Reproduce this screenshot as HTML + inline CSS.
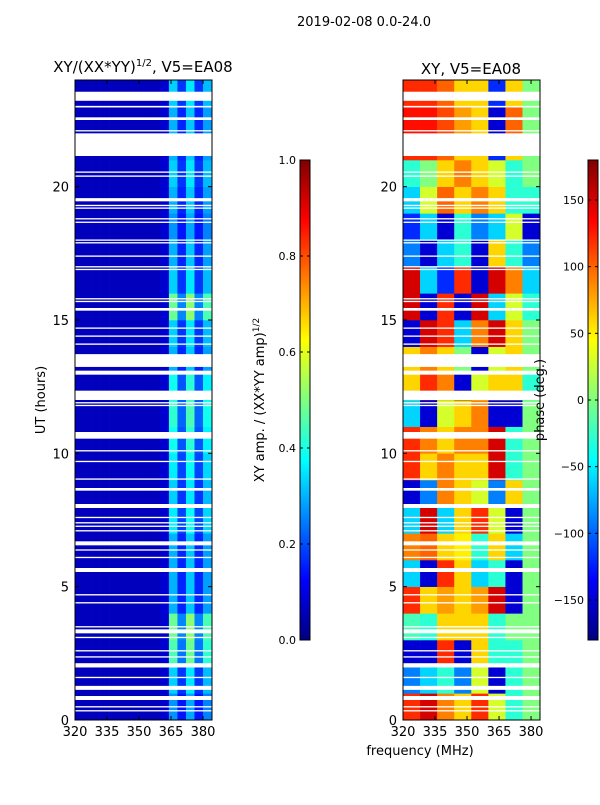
<!DOCTYPE html>
<html><head><meta charset="utf-8"><style>
body{margin:0;background:#fff;}
svg{font-family:"DejaVu Sans","Liberation Sans",sans-serif;}
</style></head><body>
<svg id="fig" width="600" height="800" xmlns="http://www.w3.org/2000/svg">
<defs>
<linearGradient id="jet" x1="0" y1="1" x2="0" y2="0">
<stop offset="0" stop-color="#00007f"/><stop offset="0.125" stop-color="#0000ff"/>
<stop offset="0.375" stop-color="#00ffff" /><stop offset="0.5" stop-color="#7fff7f"/>
<stop offset="0.625" stop-color="#ffff00"/><stop offset="0.875" stop-color="#ff0000"/><stop offset="1" stop-color="#7f0000"/>
</linearGradient>
</defs>
<text x="364" y="26" font-size="13" text-anchor="middle">2019-02-08 0.0-24.0</text>
<g id="left"></g>
<g id="right"></g>
<text x="143" y="72" font-size="15" text-anchor="middle">XY/(XX*YY)<tspan font-size="10" dy="-6">1/2</tspan><tspan dy="6">, V5=EA08</tspan></text>
<text x="471" y="74" font-size="15" text-anchor="middle">XY, V5=EA08</text>
<text transform="translate(45,400) rotate(-90)" font-size="13" text-anchor="middle">UT (hours)</text>
<text x="420" y="755" font-size="13" text-anchor="middle">frequency (MHz)</text>
<g>
<rect x="300" y="160" width="10" height="480" fill="url(#jet)" stroke="#000" stroke-width="1"/>
</g>
<g id="cb1"></g>
<text transform="translate(264,400) rotate(-90)" font-size="13" text-anchor="middle">XY amp. / (XX*YY amp)<tspan font-size="9" dy="-5">1/2</tspan></text>
<g>
<rect x="588" y="160" width="10" height="480" fill="url(#jet)" stroke="#000" stroke-width="1"/>
</g>
<g id="cb2"></g>
<text transform="translate(544,400) rotate(-90)" font-size="13" text-anchor="middle">phase (deg.)</text>
</svg>
<script>
const freqEdges=[320,324,328,332,336,340,344,348,352,356,360,364,368,372,376,380,384.2];
const ampProfile=[0.06,0.06,0.06,0.06,0.06,0.06,0.06,0.06,0.06,0.06,0.08,0.3,0.16,0.32,0.16,0.28];
const ampHourScale=[0.9,1.1,1.5,1.6,1.0,1.0,1.0,1.2,1.1,1.2,1.3,1.4,1.3,1.0,1.1,1.6,1.1,1.0,0.9,1.0,1.1,1.0,1.0,1.1];
const phaseEdges=[320,328,336,344,352,360,368,376,384.2];
const phaseGrid=[
[120,150,90,60,120,30,-30,0],
[-90,-60,-30,-90,30,-150,-30,0],
[-150,-150,120,-150,60,-30,-30,0],
[-20,-30,60,60,60,-30,0,0],
[120,60,80,60,80,150,-150,0],
[-60,-150,120,60,-60,-30,-150,0],
[90,100,60,50,-30,60,-60,0],
[-60,150,-60,60,120,30,-150,0],
[-150,-90,90,60,30,-90,60,0],
[120,60,90,60,60,150,-30,0],
[120,90,60,90,90,150,-30,0],
[-60,-150,30,60,90,-150,-150,0],
[60,120,90,-150,30,60,60,-30],
[60,90,60,0,-150,30,60,0],
[-150,150,120,-60,90,150,60,0],
[150,-150,120,-150,150,-60,30,-30],
[150,-60,-120,120,-150,150,90,-60],
[-90,-150,-60,-30,-150,60,-30,-90],
[-120,-60,-150,-30,-90,-60,30,-150],
[-60,30,100,60,90,60,-30,-30],
[-30,0,60,90,60,30,-30,0],
[120,120,100,60,60,-120,60,0],
[130,130,110,80,60,-150,100,0],
[120,120,100,60,60,-120,60,0]];
const gaps=[[23.22,23.56],[22.97,23.03],[22.5,22.6],[22.07,22.12],[21.15,22.0],[20.52,20.57],[20.37,20.42],[19.45,19.57],[19.27,19.32],[19.17,19.22],[18.77,18.82],[18.64,18.69],[17.97,18.02],[17.87,17.92],[17.37,17.42],[16.97,17.02],[16.87,16.92],[15.77,15.82],[15.67,15.72],[15.35,15.45],[14.67,14.72],[14.37,14.42],[14.07,14.12],[13.24,13.72],[12.95,13.1],[12.0,12.35],[11.87,11.92],[11.77,11.82],[10.55,10.8],[10.07,10.12],[9.67,9.72],[9.01,9.06],[8.6,8.7],[7.95,8.1],[7.57,7.62],[7.37,7.42],[7.24,7.29],[7.07,7.12],[6.55,6.7],[6.35,6.4],[6.07,6.12],[5.55,5.7],[4.67,4.72],[4.37,4.42],[3.47,3.52],[3.25,3.4],[3.07,3.12],[2.57,2.62],[2.34,2.39],[1.97,2.13],[1.57,1.62],[1.13,1.28],[0.75,0.9],[0.47,0.52],[0.32,0.37]];
const freqTicks=[320,335,350,365,380];
const hourTicks=[0,5,10,15,20];
const ampTicks=[0,0.2,0.4,0.6,0.8,1.0];
const phaseTicks=[-150,-100,-50,0,50,100,150];

const NS='http://www.w3.org/2000/svg';
function jet(v){v=Math.max(0,Math.min(1,v));
 const r=Math.max(0,Math.min(1,1.5-Math.abs(4*v-3))),g=Math.max(0,Math.min(1,1.5-Math.abs(4*v-2))),b=Math.max(0,Math.min(1,1.5-Math.abs(4*v-1)));
 return `rgb(${Math.round(r*255)},${Math.round(g*255)},${Math.round(b*255)})`;}
function mk(tag,attrs,parent){const e=document.createElementNS(NS,tag);for(const k in attrs)e.setAttribute(k,attrs[k]);parent.appendChild(e);return e;}
const Y0=80,Y1=720,HMAX=24;
const yS=h=>Y1-(h/HMAX)*(Y1-Y0);
function drawPanel(g,x0,x1,fill){
 const xS=f=>x0+(f-320)/(384.2-320)*(x1-x0);
 fill(xS);
 gaps.forEach(gp=>{const r=mk('rect',{x:x0,y:yS(gp[1]),width:x1-x0,height:Math.max(1.2,yS(gp[0])-yS(gp[1])),fill:'#fff'},g);
  
  });
 mk('rect',{x:x0,y:Y0,width:x1-x0,height:Y1-Y0,fill:'none',stroke:'#000','stroke-width':1},g);
 freqTicks.forEach(f=>{const x=xS(f);
  mk('line',{x1:x,x2:x,y1:Y1,y2:Y1-4,stroke:'#000'},g);mk('line',{x1:x,x2:x,y1:Y0,y2:Y0+4,stroke:'#000'},g);
  const t=mk('text',{x:x,y:Y1+16,'font-size':13,'text-anchor':'middle'},g);t.textContent=f;
  
  });
 hourTicks.forEach(h=>{const y=yS(h);
  mk('line',{x1:x0,x2:x0+4,y1:y,y2:y,stroke:'#000'},g);mk('line',{x1:x1,x2:x1-4,y1:y,y2:y,stroke:'#000'},g);
  const t=mk('text',{x:x0-6,y:y+5,'font-size':13,'text-anchor':'end'},g);t.textContent=h;
  
  });
}
drawPanel(document.getElementById('left'),75,212,xS=>{
 const g=document.getElementById('left');
 for(let h=0;h<HMAX;h++)for(let c=0;c<ampProfile.length;c++){
  const v=c>=11?ampProfile[c]*ampHourScale[h]:ampProfile[c];
  const r=mk('rect',{x:xS(freqEdges[c]),y:yS(h+1),width:xS(freqEdges[c+1])-xS(freqEdges[c])+0.3,height:yS(h)-yS(h+1)+0.3,fill:jet(v)},g);
  
  }
});
drawPanel(document.getElementById('right'),403,540,xS=>{
 const g=document.getElementById('right');
 phaseGrid.forEach((row,h)=>row.forEach((p,c)=>{
  const r=mk('rect',{x:xS(phaseEdges[c]),y:yS(h+1),width:xS(phaseEdges[c+1])-xS(phaseEdges[c])+0.3,height:yS(h)-yS(h+1)+0.3,fill:jet((p+180)/360)},g);
  
  }));
});
function cbar(id,x,ticks,vmin,vmax,fmt){
 const g=document.getElementById(id);
 ticks.forEach(v=>{const y=640-(v-vmin)/(vmax-vmin)*480;
  mk('line',{x1:x,x2:x+3,y1:y,y2:y,stroke:'#000'},g);mk('line',{x1:x+10,x2:x+7,y1:y,y2:y,stroke:'#000'},g);
  const t=mk('text',{x:x-4,y:y+4,'font-size':11,'text-anchor':'end'},g);t.textContent=fmt(v);
  
  });
}
cbar('cb1',300,ampTicks,0,1,v=>v.toFixed(1));
cbar('cb2',588,phaseTicks,-180,180,v=>v<0?'\u2212'+(-v):String(v));
</script>
</body></html>
